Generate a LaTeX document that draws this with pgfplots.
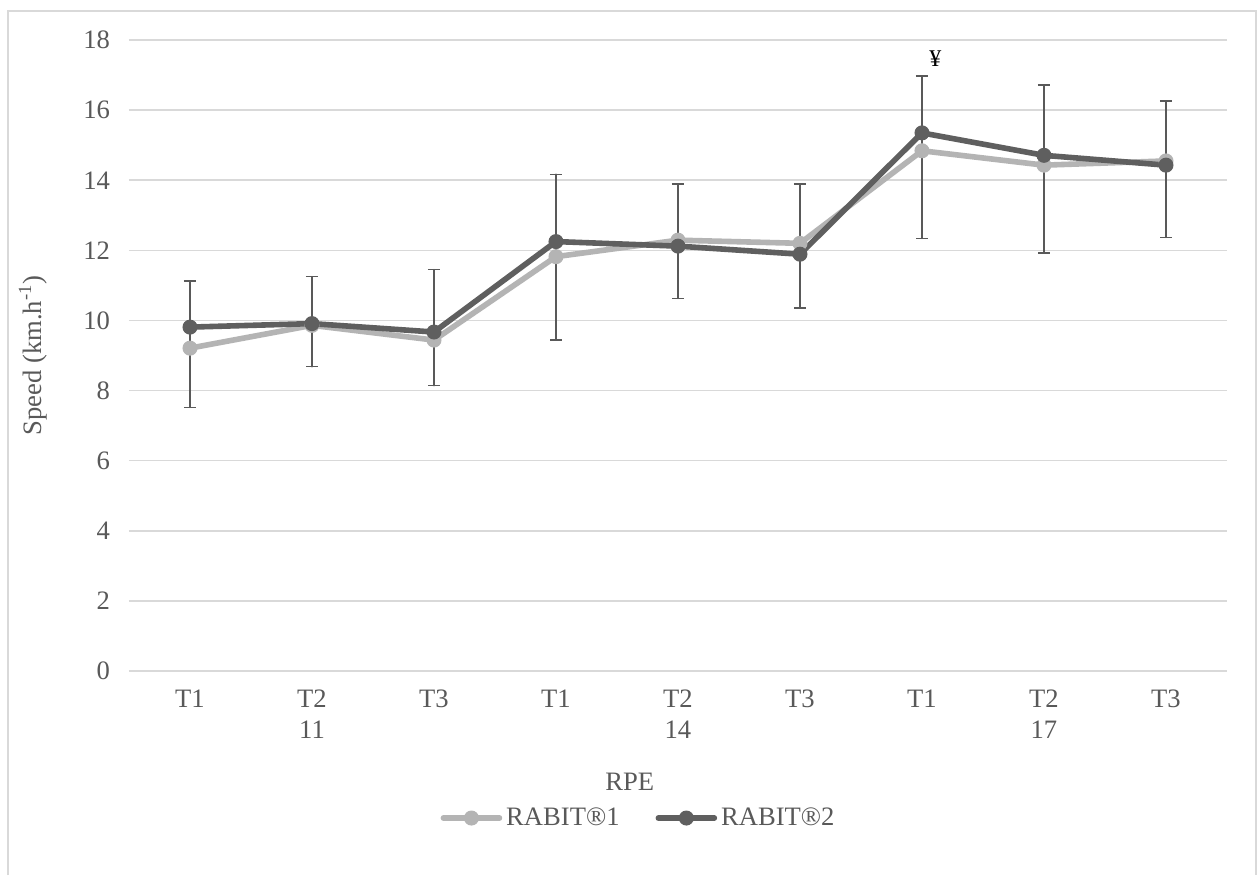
\documentclass[border=0pt]{standalone}
\usepackage{fontspec}
\setmainfont{Liberation Serif}
\usepackage{pgfplots}
\pgfplotsset{compat=1.18}
\usepackage{pgfplotstable}
\definecolor{lightser}{HTML}{B4B4B4}
\definecolor{darkser}{HTML}{5F5F5F}
\definecolor{txt}{HTML}{595959}
\definecolor{gridc}{HTML}{D9D9D9}
\pgfplotstableread{
x light dark ep em
0 9.21 9.81 1.31 2.29
1 9.86 9.91 1.34 1.23
2 9.44 9.67 1.78 1.53
3 11.82 12.25 1.92 2.81
4 12.29 12.12 1.77 1.49
5 12.20 11.89 2.00 1.53
6 14.84 15.35 1.62 3.01
7 14.43 14.71 2.00 2.78
8 14.55 14.43 1.83 2.06
}\datatable
\begin{document}
\begin{tikzpicture}[font=\fontsize{13.3}{15.5}\selectfont]
\useasboundingbox (-64.5pt,-102pt) rectangle (564pt,335.5pt);
\fill[white] (-64.5pt,-102pt) rectangle (564pt,335.5pt);
\draw[gridc, line width=0.75pt] (-60.5pt,-102pt) -- (-60.5pt,330pt) -- (563.5pt,330pt) -- (563.5pt,-102pt);
\begin{axis}[
  scale only axis,
  width=549pt, height=315.5pt,
  xmin=-0.5, xmax=8.5, ymin=0, ymax=18,
  xtick={0,...,8},
  xticklabels={{T1},{T2\\11},{T3},{T1},{T2\\14},{T3},{T1},{T2\\17},{T3}},
  xticklabel style={align=center, text=txt, yshift=-6pt, anchor=north},
  ytick={0,2,...,18},
  yticklabel style={text=txt},
  /pgf/number format/assume math mode=true,
  ymajorgrids, major grid style={gridc, line width=0.75pt},
  axis line style={draw=none},
  major tick length=0pt,
  tick label style={font=\fontsize{13.3}{15.5}\selectfont},
  yticklabel style={xshift=-6pt},
  ylabel={Speed (km.h\textsuperscript{-1})},
  ylabel style={text=txt, at={(axis description cs:-0.0875,0.5)}, anchor=center},
  xlabel={RPE},
  xlabel style={text=txt, at={(axis description cs:0.456,-0.176)}, anchor=center},
  legend style={draw=none, at={(axis description cs:0.465,-0.233)}, anchor=center,
    legend columns=2, /tikz/every even column/.append style={column sep=16pt},
    font=\fontsize{13.3}{15.5}\selectfont, text=txt, inner sep=0pt},
  legend image code/.code={\draw[mark repeat=2,mark phase=2] plot coordinates {(0pt,0pt) (14pt,0pt) (28pt,0pt)};},
  clip=false,
]
\addplot[color=lightser, line width=2.8pt, line cap=round, mark=*, mark size=3.5pt, mark options={fill=lightser, draw=lightser, line width=0.5pt}] table[x=x, y=light] {\datatable};
\addlegendentry{RABIT®1}
\addplot[color=darkser, line width=2.8pt, line cap=round, mark=*, mark size=3.5pt, mark options={fill=darkser, draw=darkser, line width=0.5pt},
  error bars/.cd, y dir=both, y explicit,
  error bar style={line width=0.75pt, color=txt},
  error mark options={rotate=90, mark size=3pt, line width=0.75pt, color=txt}]
  table[x=x, y=dark, y error plus=ep, y error minus=em] {\datatable};
\addlegendentry{RABIT®2}
\node[font=\fontsize{12}{14}\selectfont] at (axis cs:6.11,17.46) {¥};
\end{axis}
\end{tikzpicture}
\end{document}
